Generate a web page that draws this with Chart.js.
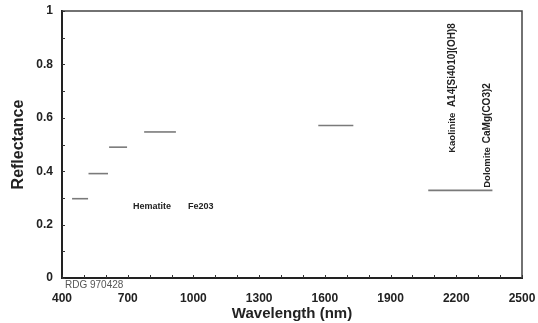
<!DOCTYPE html>
<html>
<head>
<meta charset="utf-8">
<script src="https://cdn.jsdelivr.net/npm/chart.js@4.4.1/dist/chart.umd.min.js"></script>
<style>
  html, body { margin: 0; padding: 0; background: #fff; }
</style>
</head>
<body>
<canvas id="specChart" width="538" height="323"></canvas>
<script>
// band edges (nm) and mean reflectance for each band
const bandStart = [446, 521, 615, 775, 1570, 2072];
const bandEnd = [519, 610, 697, 920, 1730, 2365];
const reflectance = [0.297, 0.391, 0.49, 0.547, 0.571, 0.328];

const xTicks = [400, 700, 1000, 1300, 1600, 1900, 2200, 2500];
const yTicks = [0, 0.2, 0.4, 0.6, 0.8, 1];

// mineral labels, placed in data units
const labels = [
  { text: 'Hematite', x: 724, y: 0.266, rot: 0, size: 9 },
  { text: 'Fe203', x: 975, y: 0.266, rot: 0, size: 9 },
  { text: 'Kaolinite', x: 2181, y: 0.469, rot: -90, size: 9.5 },
  { text: 'A14[Si4010](OH)8', x: 2181, y: 0.64, rot: -90, size: 10 },
  { text: 'Dolomite', x: 2341, y: 0.338, rot: -90, size: 9.5 },
  { text: 'CaMg(CO3)2', x: 2341, y: 0.505, rot: -90, size: 10 }
];

const datasets = bandStart.map(function (start, i) {
  return {
    data: [{ x: start, y: reflectance[i] }, { x: bandEnd[i], y: reflectance[i] }],
    showLine: true,
    borderColor: '#7a7a7a',
    borderWidth: 1.6,
    pointRadius: 0
  };
});

const frameAndText = {
  id: 'frameAndText',
  afterDraw(chart) {
    const { ctx, chartArea: a, scales: { x, y } } = chart;
    ctx.save();
    // top + right of the frame
    ctx.strokeStyle = '#444';
    ctx.lineWidth = 1.5;
    ctx.beginPath();
    ctx.moveTo(a.left, a.top);
    ctx.lineTo(a.right, a.top);
    ctx.lineTo(a.right, a.bottom);
    ctx.stroke();

    // inward ticks
    ctx.strokeStyle = '#333';
    ctx.lineWidth = 1;
    ctx.beginPath();
    for (let w = 400; w <= 2500; w += 100) {
      const px = Math.round(x.getPixelForValue(w)) + 0.5;
      ctx.moveTo(px, a.bottom);
      ctx.lineTo(px, a.bottom - 3);
    }
    for (let k = 0; k <= 10; k++) {
      const py = Math.round(y.getPixelForValue(k / 10)) + 0.5;
      ctx.moveTo(a.left, py);
      ctx.lineTo(a.left + 3, py);
    }
    ctx.stroke();

    ctx.fillStyle = '#222';
    ctx.textBaseline = 'middle';
    ctx.textAlign = 'left';
    labels.forEach(function (l) {
      ctx.save();
      ctx.font = 'bold ' + l.size + 'px "Liberation Sans", Arial, sans-serif';
      ctx.translate(x.getPixelForValue(l.x), y.getPixelForValue(l.y));
      ctx.rotate(l.rot * Math.PI / 180);
      ctx.fillText(l.text, 0, 0);
      ctx.restore();
    });

    ctx.fillStyle = '#555';
    ctx.font = '10px "Liberation Sans", Arial, sans-serif';
    ctx.fillText('RDG 970428', a.left + 3, a.bottom + 7);
    ctx.restore();
  }
};

const labelFont = { family: '"Liberation Sans", Arial, sans-serif', size: 12, weight: 'bold' };

new Chart(document.getElementById('specChart'), {
  type: 'scatter',
  data: { datasets: datasets },
  options: {
    responsive: false,
    animation: false,
    layout: { padding: { top: 11, right: 16, bottom: 0, left: 0 } },
    plugins: { legend: { display: false }, tooltip: { enabled: false } },
    scales: {
      x: {
        type: 'linear',
        min: 400,
        max: 2500,
        afterBuildTicks: (s) => { s.ticks = xTicks.map(v => ({ value: v })); },
        afterFit: (s) => { s.height = 45; s.paddingLeft = 0; s.paddingRight = 0; },
        grid: { display: false, drawTicks: false },
        border: { display: true, color: '#222', width: 2 },
        ticks: {
          autoSkip: false,
          maxRotation: 0,
          padding: 13,
          color: '#222',
          font: labelFont,
          callback: (v) => String(v)
        },
        title: {
          display: true,
          text: 'Wavelength (nm)',
          color: '#222',
          padding: { top: 0, bottom: 0 },
          font: { family: '"Liberation Sans", Arial, sans-serif', size: 15, weight: 'bold' }
        }
      },
      y: {
        min: 0,
        max: 1,
        afterBuildTicks: (s) => { s.ticks = yTicks.map(v => ({ value: v })); },
        afterFit: (s) => { s.width = 62; s.paddingTop = 0; s.paddingBottom = 0; },
        grid: { display: false, drawTicks: false },
        border: { display: true, color: '#222', width: 2 },
        ticks: {
          padding: 9,
          color: '#222',
          font: labelFont,
          callback: (v) => String(+v.toFixed(1))
        },
        title: {
          display: true,
          text: 'Reflectance',
          color: '#222',
          padding: { top: 9, bottom: 0 },
          font: { family: '"Liberation Sans", Arial, sans-serif', size: 16, weight: 'bold' }
        }
      }
    }
  },
  plugins: [frameAndText]
});
</script>
</body>
</html>
